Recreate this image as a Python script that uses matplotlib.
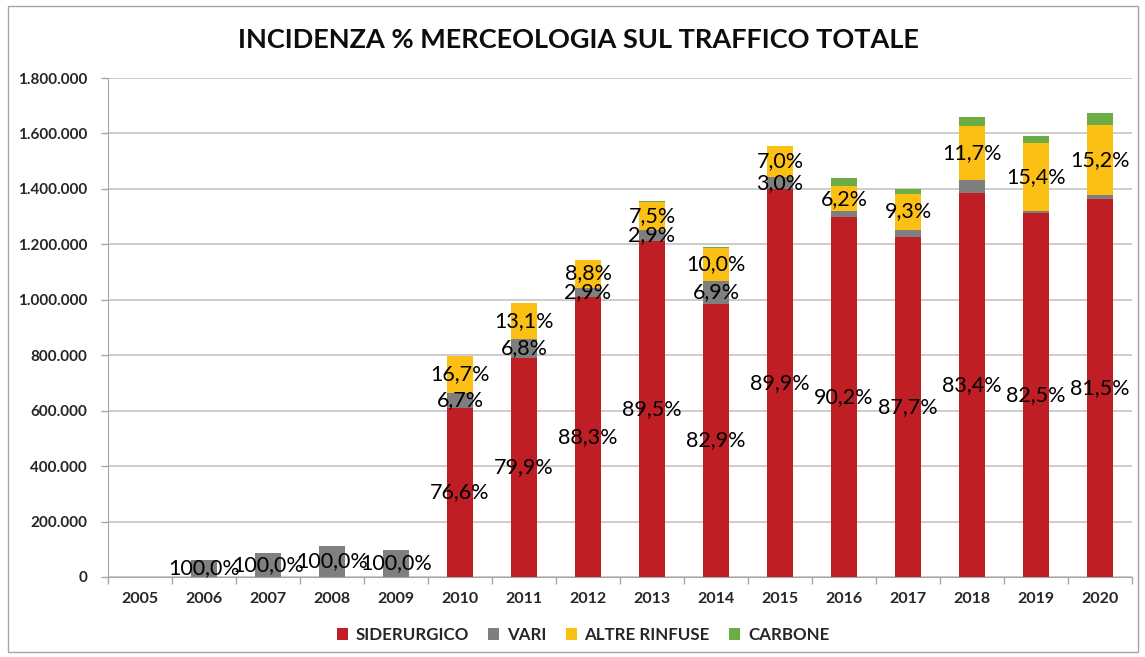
import matplotlib
matplotlib.use("Agg")
import matplotlib.pyplot as plt
from matplotlib.patches import Rectangle
from matplotlib.ticker import FuncFormatter, MultipleLocator, FixedLocator
import numpy as np

# ---- data ----
years = ["2005", "2006", "2007", "2008", "2009", "2010", "2011", "2012",
         "2013", "2014", "2015", "2016", "2017", "2018", "2019", "2020"]
totale = [0, 61000, 87000, 112000, 97000, 797000, 990000, 1145000,
          1355000, 1190000, 1555000, 1439000, 1400000, 1660000, 1591000, 1674000]
pct_siderurgico = [0, 0, 0, 0, 0, 76.6, 79.9, 88.3, 89.5, 82.9, 89.9, 90.2, 87.7, 83.4, 82.5, 81.5]
pct_vari = [0, 100.0, 100.0, 100.0, 100.0, 6.7, 6.8, 2.9, 2.9, 6.9, 3.0, 1.5, 1.8, 2.8, 0.5, 0.8]
pct_altre = [0, 0, 0, 0, 0, 16.7, 13.1, 8.8, 7.5, 10.0, 7.0, 6.2, 9.3, 11.7, 15.4, 15.2]
pct_carbone = [0, 0, 0, 0, 0, 0.0, 0.2, 0.0, 0.1, 0.2, 0.1, 2.1, 1.2, 2.1, 1.6, 2.5]
# which segments carry a data label
lab_siderurgico = [0, 0, 0, 0, 0, 1, 1, 1, 1, 1, 1, 1, 1, 1, 1, 1]
lab_vari = [0, 1, 1, 1, 1, 1, 1, 1, 1, 1, 1, 0, 0, 0, 0, 0]
lab_altre = [0, 0, 0, 0, 0, 1, 1, 1, 1, 1, 1, 1, 1, 1, 1, 1]
lab_carbone = [0] * 16

series = [
    ("SIDERURGICO", pct_siderurgico, lab_siderurgico, "#BE1E24"),
    ("VARI", pct_vari, lab_vari, "#7F7F7F"),
    ("ALTRE RINFUSE", pct_altre, lab_altre, "#FCC014"),
    ("CARBONE", pct_carbone, lab_carbone, "#6DAB45"),
]

plt.rcParams['font.family'] = ['Lato', 'DejaVu Sans']

fig = plt.figure(figsize=(11.45, 6.57), dpi=100)
ax = fig.add_axes([108 / 1145, 1 - 577 / 657, (1132 - 108) / 1145, (577 - 78) / 657])

x = np.arange(len(years))
tot = np.array(totale, dtype=float)
bottom = np.zeros(len(years))
handles = []
for name, pct, lab, col in series:
    vals = tot * np.array(pct) / 100.0
    h = ax.bar(x, vals, width=0.4, bottom=bottom, color=col, label=name, zorder=3)
    handles.append(h)
    for i in range(len(years)):
        if lab[i]:
            s = f"{pct[i]:.1f}%".replace(".", ",")
            ax.text(x[i], bottom[i] + vals[i] / 2, s, ha="center", va="center",
                    fontsize=15.5, color="#000000", zorder=5)
    bottom += vals

ax.set_xlim(-0.5, len(years) - 0.5)
ax.set_ylim(0, 1800000)
ax.yaxis.set_major_locator(MultipleLocator(200000))
ax.yaxis.set_major_formatter(FuncFormatter(lambda v, p: f"{int(v):,}".replace(",", ".")))
ax.set_xticks(x)
ax.set_xticklabels(years)
ax.xaxis.set_minor_locator(FixedLocator(np.arange(-0.5, len(years), 1.0)))
ax.tick_params(axis="x", which="major", length=0, pad=11, labelsize=11.5, labelcolor="#262626")
ax.tick_params(axis="x", which="minor", length=5, color="#A6A6A6", width=1)
ax.tick_params(axis="y", length=5, color="#A6A6A6", width=1, pad=10, labelsize=11, labelcolor="#262626")
for lbl in ax.get_xticklabels() + ax.get_yticklabels():
    lbl.set_fontweight("bold")

ax.grid(axis="y", color="#BFBFBF", linewidth=1.1, zorder=0)
ax.set_axisbelow(True)
for sp in ["top", "right"]:
    ax.spines[sp].set_visible(False)
ax.spines["left"].set_color("#A6A6A6")
ax.spines["bottom"].set_color("#A6A6A6")

fig.text(0.505, 1 - 40 / 657, "INCIDENZA % MERCEOLOGIA SUL TRAFFICO TOTALE",
         ha="center", va="center", fontsize=19.5, fontweight="bold", color="#0D0D0D")

leg = fig.legend(handles=handles, loc="center", bbox_to_anchor=(583 / 1145, 1 - 635 / 657),
                 ncol=4, frameon=False, handlelength=0.65, handleheight=0.65,
                 handletextpad=0.45, columnspacing=1.15, prop={"weight": "bold", "size": 12.2})
for t in leg.get_texts():
    t.set_color("#262626")

fig.patches.append(Rectangle((8 / 1145, 5 / 657), 1130 / 1145, 646 / 657,
                             transform=fig.transFigure, fill=False,
                             edgecolor="#A6A6A6", linewidth=1))

fig.savefig("out.png", dpi=100)
